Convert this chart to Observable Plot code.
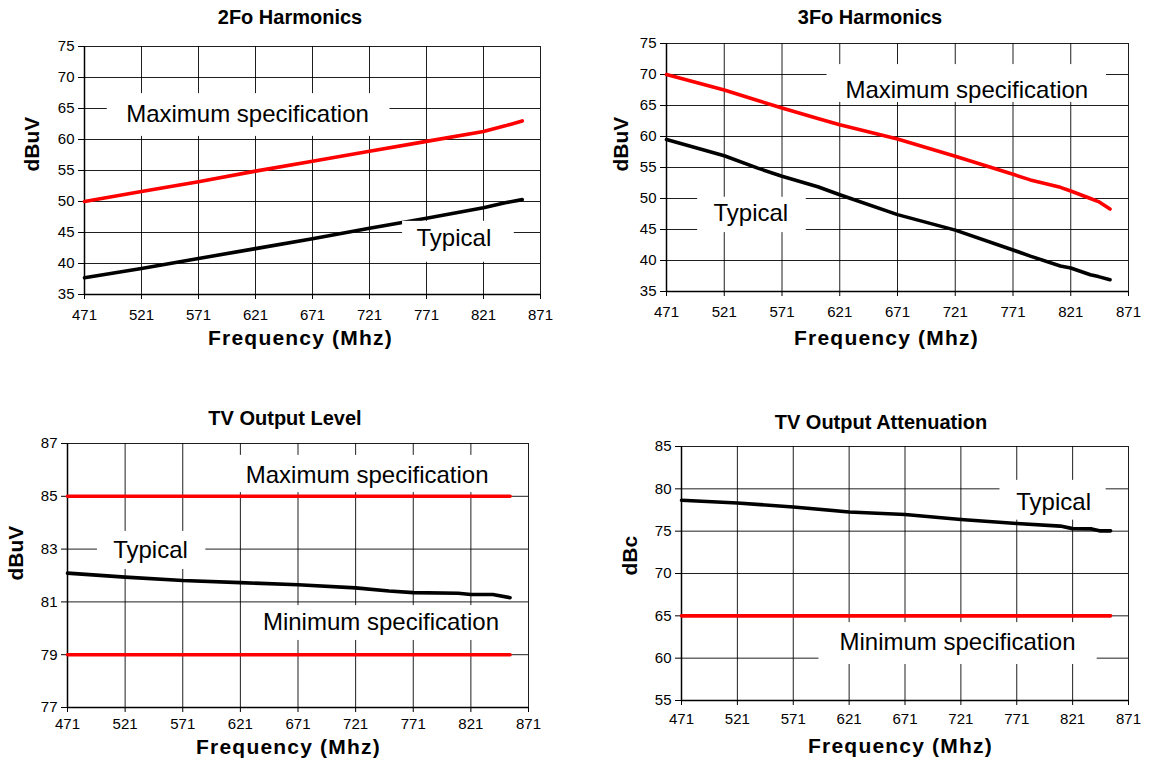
<!DOCTYPE html>
<html>
<head>
<meta charset="utf-8">
<script src="https://cdn.jsdelivr.net/npm/d3@7"></script>
<script src="https://cdn.jsdelivr.net/npm/@observablehq/plot@0.6"></script>
<style>
  html, body { margin: 0; padding: 0; background: #fff; }
  #root { position: relative; width: 1158px; height: 760px; overflow: hidden; font-family: 'Liberation Sans', Arial, Helvetica, sans-serif; }
  .panel { position: absolute; }
  .title { position: absolute; transform: translate(-50%, -50%); font-size: 20px; font-weight: bold; white-space: nowrap; z-index: 5; color: #000; }
</style>
</head>
<body>
<div id="root"></div>
<script>
// ---------- data ----------
const freqTicks = [471, 521, 571, 621, 671, 721, 771, 821, 871];
const xTitle = "Frequency (Mhz)";

// 2Fo Harmonics
const h2Freq = [471, 521, 571, 621, 671, 721, 771, 821, 840, 855];
const h2Max  = [50.0, 51.6, 53.2, 54.9, 56.5, 58.1, 59.7, 61.3, 62.2, 63.0];
const h2Typ  = [37.7, 39.2, 40.8, 42.4, 44.0, 45.7, 47.3, 49.0, 49.8, 50.3];
const h2Ticks = [35, 40, 45, 50, 55, 60, 65, 70, 75];

// 3Fo Harmonics
const h3Freq = [471, 521, 550, 571, 602, 621, 671, 721, 771, 786, 812, 821, 838, 845, 855];
const h3Max  = [70.0, 67.5, 65.8, 64.6, 62.9, 61.9, 59.6, 56.8, 53.9, 53.0, 51.8, 51.2, 50.0, 49.5, 48.3];
const h3Typ  = [59.5, 56.9, 54.9, 53.6, 51.9, 50.6, 47.4, 44.9, 41.7, 40.7, 39.1, 38.8, 37.7, 37.4, 36.9];
const h3Ticks = [35, 40, 45, 50, 55, 60, 65, 70, 75];

// TV Output Level
const lvlFreq = [471, 521, 571, 621, 671, 721, 750, 771, 810, 821, 840, 855];
const lvlTyp  = [82.09, 81.94, 81.81, 81.73, 81.65, 81.53, 81.41, 81.35, 81.33, 81.28, 81.28, 81.16];
const lvlSpecFreq = [471, 855];
const lvlMax = [85, 85];
const lvlMin = [79, 79];
const lvlTicks = [77, 79, 81, 83, 85, 87];

// TV Output Attenuation
const attFreq = [471, 521, 571, 621, 671, 721, 771, 810, 821, 838, 845, 855];
const attTyp  = [78.65, 78.33, 77.86, 77.27, 76.96, 76.37, 75.9, 75.6, 75.3, 75.27, 75.04, 75.04];
const attSpecFreq = [471, 855];
const attMin = [65, 65];
const attTicks = [55, 60, 65, 70, 75, 80, 85];

// ---------- drawing ----------
const FONT = "'Liberation Sans', Arial, Helvetica, sans-serif";
const RED = "#ff0000", BLACK = "#000000";
const root = document.getElementById("root");

function rows(freq, values) { return freq.map((f, i) => ({f, v: values[i]})); }

function panel(cfg) {
  const y0 = cfg.yDomain[0];
  const chart = Plot.plot({
    width: cfg.width, height: cfg.height,
    marginTop: cfg.mt, marginRight: cfg.mr, marginBottom: cfg.mb, marginLeft: cfg.ml,
    style: {fontFamily: FONT, fontSize: "15px", color: "#000", background: "transparent", overflow: "visible"},
    x: {domain: [471, 871]},
    y: {domain: cfg.yDomain},
    marks: [
      Plot.gridX(freqTicks, {stroke: "#000", strokeOpacity: 0.88, strokeWidth: 1}),
      Plot.gridY(cfg.yTicks, {stroke: "#000", strokeOpacity: 0.88, strokeWidth: 1}),
      Plot.axisX(freqTicks, {tickSize: 5, tickPadding: cfg.tp, label: null, fontSize: 15}),
      Plot.axisY(cfg.yTicks, {tickSize: 6, tickPadding: 4, label: null, fontSize: 15}),
      Plot.ruleX([471], {stroke: "#000", strokeWidth: 1.5}),
      Plot.ruleY([y0], {stroke: "#000", strokeWidth: 1.5}),
      ...cfg.series.map(s => Plot.line(rows(s.freq, s.values), {x: "f", y: "v", stroke: s.color, strokeWidth: 3.6, strokeLinejoin: "round"})),
      Plot.rect(cfg.boxes, {x1: "x1", x2: "x2", y1: "y1", y2: "y2", fill: "#fff"}),
      Plot.text(cfg.notes, {x: "x", y: "y", text: "text", fontSize: 24, fill: "#000", fontFamily: FONT}),
      // axis titles
      Plot.text([xTitle], {text: d => d, frameAnchor: "bottom", dx: cfg.xdx, dy: cfg.xdy, lineAnchor: "middle",
        fontSize: 21, fontWeight: "bold", fill: "#000", fontFamily: FONT}),
      Plot.text([cfg.yLabel], {text: d => d, frameAnchor: "left", rotate: -90, dx: cfg.ydx, dy: cfg.ydy, lineAnchor: "middle",
        fontSize: 21, fontWeight: "bold", fill: "#000", fontFamily: FONT})
    ]
  });
  chart.querySelectorAll("text").forEach(t => {
    if (t.textContent === xTitle) t.setAttribute("letter-spacing", "1.2");
  });
  const holder = document.createElement("div");
  holder.className = "panel";
  holder.style.left = cfg.left + "px";
  holder.style.top = cfg.top + "px";
  holder.appendChild(chart);
  root.appendChild(holder);

  const t = document.createElement("div");
  t.className = "title";
  t.textContent = cfg.title;
  t.style.left = cfg.titleX + "px";
  t.style.top = cfg.titleY + "px";
  root.appendChild(t);
}

panel({
  title: "2Fo Harmonics", titleX: 290, titleY: 17,
  left: 0, top: 30, width: 570, height: 330, ml: 84, mr: 30, mt: 16, mb: 66, tp: 10,
  xdx: -12, xdy: 44, ydx: -52, ydy: 1,
  yDomain: [35, 75], yTicks: h2Ticks, yLabel: "dBuV",
  series: [{freq: h2Freq, values: h2Max, color: RED}, {freq: h2Freq, values: h2Typ, color: BLACK}],
  boxes: [{x1: 491, x2: 739, y1: 60.5, y2: 67.4}, {x1: 750, x2: 848, y1: 40.2, y2: 46.8}],
  notes: [{x: 614, y: 64.0, text: "Maximum specification"}, {x: 795, y: 44.0, text: "Typical"}]
});

panel({
  title: "3Fo Harmonics", titleX: 870, titleY: 17,
  left: 590, top: 30, width: 568, height: 330, ml: 76, mr: 30, mt: 13, mb: 69, tp: 10,
  xdx: -11, xdy: 47, ydx: -45, ydy: 4,
  yDomain: [35, 75], yTicks: h3Ticks, yLabel: "dBuV",
  series: [{freq: h3Freq, values: h3Max, color: RED}, {freq: h3Freq, values: h3Typ, color: BLACK}],
  boxes: [{x1: 610, x2: 852, y1: 65.5, y2: 71.6}, {x1: 498, x2: 592, y1: 44.5, y2: 50.2}],
  notes: [{x: 731, y: 67.4, text: "Maximum specification"}, {x: 544, y: 47.6, text: "Typical"}]
});

panel({
  title: "TV Output Level", titleX: 285, titleY: 418,
  left: 0, top: 430, width: 570, height: 330, ml: 67, mr: 42, mt: 13, mb: 53, tp: 6,
  xdx: -9.5, xdy: 40, ydx: -51, ydy: 5,
  yDomain: [77, 87], yTicks: lvlTicks, yLabel: "dBuV",
  series: [
    {freq: lvlSpecFreq, values: lvlMax, color: RED},
    {freq: lvlSpecFreq, values: lvlMin, color: RED},
    {freq: lvlFreq, values: lvlTyp, color: BLACK}
  ],
  boxes: [{x1: 619, x2: 845, y1: 85.14, y2: 86.55}, {x1: 497, x2: 591, y1: 82.23, y2: 83.67}, {x1: 640, x2: 847, y1: 79.54, y2: 80.86}],
  notes: [{x: 731, y: 85.79, text: "Maximum specification"}, {x: 543, y: 82.95, text: "Typical"}, {x: 743, y: 80.22, text: "Minimum specification"}]
});

panel({
  title: "TV Output Attenuation", titleX: 881, titleY: 422,
  left: 590, top: 430, width: 568, height: 330, ml: 91, mr: 30, mt: 16, mb: 60, tp: 8,
  xdx: -4.5, xdy: 46, ydx: -51, ydy: 2,
  yDomain: [55, 85], yTicks: attTicks, yLabel: "dBc",
  series: [
    {freq: attSpecFreq, values: attMin, color: RED},
    {freq: attFreq, values: attTyp, color: BLACK}
  ],
  boxes: [{x1: 756, x2: 851, y1: 76.3, y2: 81.0}, {x1: 594, x2: 843, y1: 59.25, y2: 64.2}],
  notes: [{x: 804, y: 78.4, text: "Typical"}, {x: 718, y: 61.85, text: "Minimum specification"}]
});
</script>
</body>
</html>
